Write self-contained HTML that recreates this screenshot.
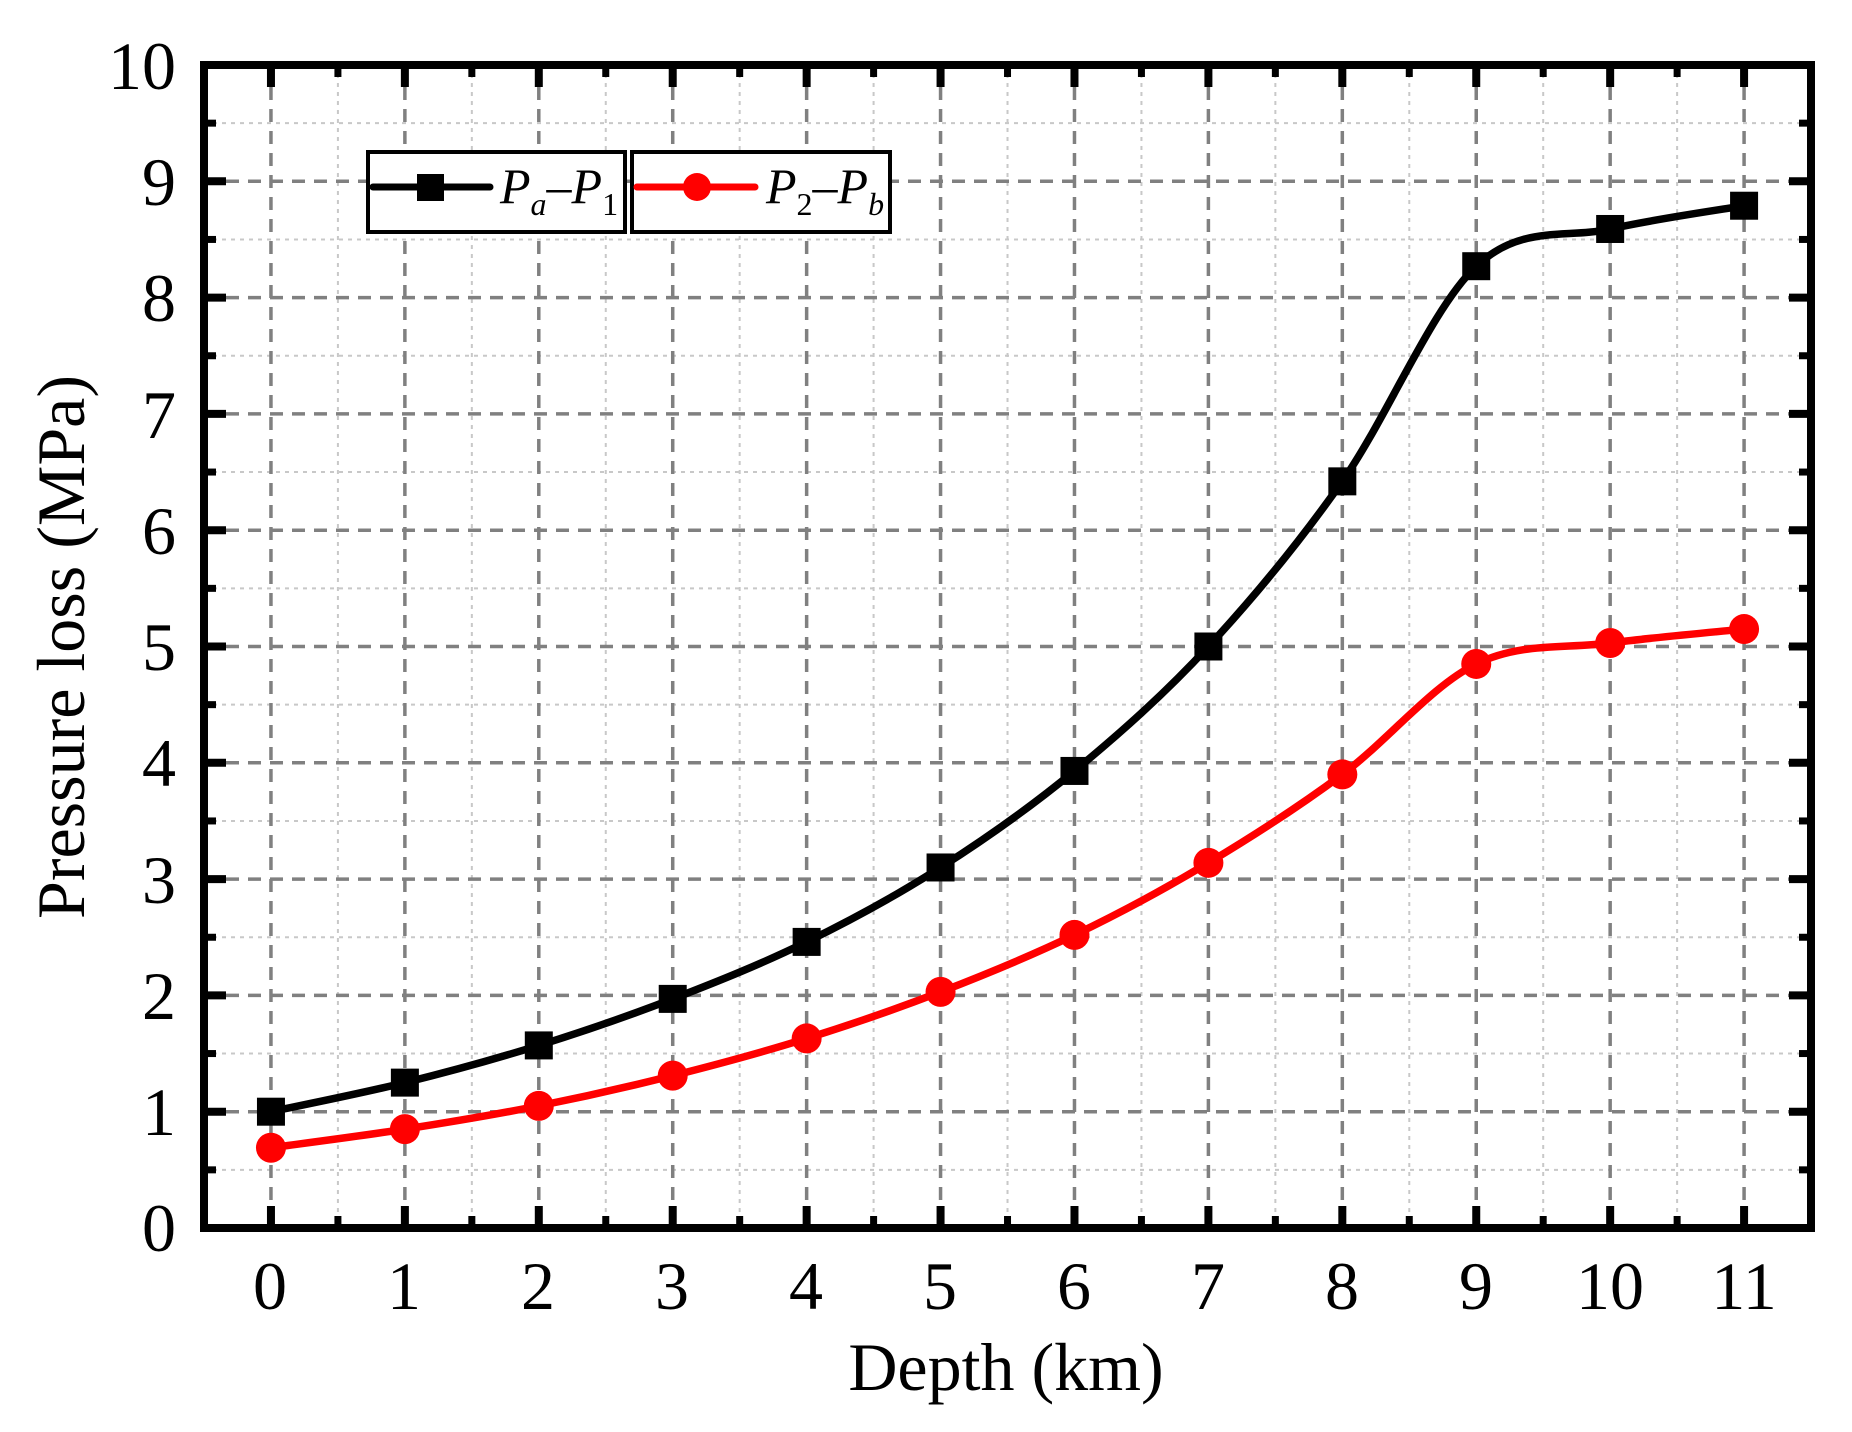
<!DOCTYPE html>
<html><head><meta charset="utf-8"><style>
html,body{margin:0;padding:0;background:#fff;}
svg{display:block;}
text{font-family:"Liberation Serif","Times New Roman",serif;fill:#000;}
</style></head><body>
<svg id="s" width="1852" height="1432" viewBox="0 0 1852 1432" xmlns="http://www.w3.org/2000/svg">
<g id="grid"></g>
<g id="ticks"></g>
<rect x="204" y="65" width="1607" height="1163" fill="none" stroke="#000" stroke-width="8"/>
<g font-size="68" text-anchor="middle">
<text x="270" y="1309">0</text><text x="404" y="1309">1</text><text x="538" y="1309">2</text><text x="672" y="1309">3</text><text x="806" y="1309">4</text><text x="940" y="1309">5</text><text x="1074" y="1309">6</text><text x="1208" y="1309">7</text><text x="1342" y="1309">8</text><text x="1476" y="1309">9</text><text x="1610" y="1309">10</text><text x="1744" y="1309">11</text>
</g>
<g font-size="68" text-anchor="end">
<text x="176" y="1251">0</text><text x="176" y="1135">1</text><text x="176" y="1019">2</text><text x="176" y="903">3</text><text x="176" y="786">4</text><text x="176" y="670">5</text><text x="176" y="554">6</text><text x="176" y="438">7</text><text x="176" y="321">8</text><text x="176" y="205">9</text><text x="176" y="89">10</text>
</g>
<text x="1006" y="1390" font-size="68" text-anchor="middle">Depth (km)</text>
<text transform="translate(84,647) rotate(-90)" font-size="68" text-anchor="middle">Pressure loss (MPa)</text>
<path id="pb" fill="none" stroke="#000" stroke-width="7.5" stroke-linejoin="round"/>
<path id="pr" fill="none" stroke="#f00" stroke-width="7.5" stroke-linejoin="round"/>
<g id="mk"></g>
<rect x="368" y="152" width="257" height="80" fill="#fff" stroke="#000" stroke-width="4"/>
<rect x="632" y="152" width="258" height="80" fill="#fff" stroke="#000" stroke-width="4"/>
<line x1="373" y1="187" x2="490" y2="187" stroke="#000" stroke-width="7" stroke-linecap="round"/>
<rect x="417" y="174" width="27" height="27" fill="#000"/>
<line x1="637" y1="187" x2="755" y2="187" stroke="#f00" stroke-width="7" stroke-linecap="round"/>
<circle cx="697" cy="187" r="14" fill="#f00"/>
<text x="500" y="203" font-size="50" font-style="italic">P<tspan font-size="32" dy="12">a</tspan><tspan dy="-12" font-style="normal">–</tspan>P<tspan font-size="32" dy="12" font-style="normal">1</tspan></text>
<text x="766" y="203" font-size="50" font-style="italic">P<tspan font-size="32" dy="12" font-style="normal">2</tspan><tspan dy="-12" font-style="normal">–</tspan>P<tspan font-size="32" dy="12">b</tspan></text>
</svg>
<script>
var NS="http://www.w3.org/2000/svg";
function X(v){return 204+(v+0.5)*133.92;}
function Y(v){return 1228-v*116.3;}
function el(p,t,a){var e=document.createElementNS(NS,t);for(var k in a)e.setAttribute(k,a[k]);p.appendChild(e);return e;}
var g=document.getElementById('grid'),tk=document.getElementById('ticks');
for(var i=0;i<11;i++){var xm=X(i+0.5);el(g,'line',{x1:xm,y1:65,x2:xm,y2:1228,stroke:'#c8c8c8','stroke-width':2,'stroke-dasharray':'4 5'});}
for(var j=0;j<10;j++){var ym=Y(j+0.5);el(g,'line',{x1:204,y1:ym,x2:1811,y2:ym,stroke:'#c8c8c8','stroke-width':2,'stroke-dasharray':'4 5'});}
for(var i=0;i<12;i++){var x=X(i);el(g,'line',{x1:x,y1:65,x2:x,y2:1228,stroke:'#808080','stroke-width':3.5,'stroke-dasharray':'13 9'});
 el(tk,'line',{x1:x,y1:1228,x2:x,y2:1206,stroke:'#000','stroke-width':8});el(tk,'line',{x1:x,y1:65,x2:x,y2:87,stroke:'#000','stroke-width':8});
 if(i<11){var xm=X(i+0.5);el(tk,'line',{x1:xm,y1:1228,x2:xm,y2:1216,stroke:'#000','stroke-width':7});el(tk,'line',{x1:xm,y1:65,x2:xm,y2:77,stroke:'#000','stroke-width':7});}}
for(var j=1;j<10;j++){var y=Y(j);el(g,'line',{x1:204,y1:y,x2:1811,y2:y,stroke:'#808080','stroke-width':3.5,'stroke-dasharray':'13 9'});}
for(var j=0;j<=10;j++){var y=Y(j);el(tk,'line',{x1:204,y1:y,x2:226,y2:y,stroke:'#000','stroke-width':8});el(tk,'line',{x1:1811,y1:y,x2:1789,y2:y,stroke:'#000','stroke-width':8});
 if(j<10){var ym=Y(j+0.5);el(tk,'line',{x1:204,y1:ym,x2:216,y2:ym,stroke:'#000','stroke-width':7});el(tk,'line',{x1:1811,y1:ym,x2:1799,y2:ym,stroke:'#000','stroke-width':7});}}
var B=[1.0,1.25,1.57,1.97,2.46,3.1,3.93,5.0,6.42,8.27,8.59,8.79];
var R=[0.69,0.85,1.05,1.31,1.63,2.03,2.52,3.14,3.9,4.85,5.03,5.15];
function path(d){var p=d.map(function(v,i){return[X(i),Y(v)];});var s='M'+p[0][0]+','+p[0][1];
 for(var i=0;i<p.length-1;i++){var p0=p[Math.max(0,i-1)],p1=p[i],p2=p[i+1],p3=p[Math.min(p.length-1,i+2)];
 var c1=[p1[0]+(p2[0]-p0[0])/6,p1[1]+(p2[1]-p0[1])/6],c2=[p2[0]-(p3[0]-p1[0])/6,p2[1]-(p3[1]-p1[1])/6];
 s+=' C'+c1[0]+','+c1[1]+' '+c2[0]+','+c2[1]+' '+p2[0]+','+p2[1];}return s;}
document.getElementById('pb').setAttribute('d',path(B));
document.getElementById('pr').setAttribute('d',path(R));
var mk=document.getElementById('mk');
B.forEach(function(v,i){el(mk,'rect',{x:X(i)-14,y:Y(v)-14,width:28,height:28,fill:'#000'});});
R.forEach(function(v,i){el(mk,'circle',{cx:X(i),cy:Y(v),r:15,fill:'#f00'});});
</script>
</body></html>
